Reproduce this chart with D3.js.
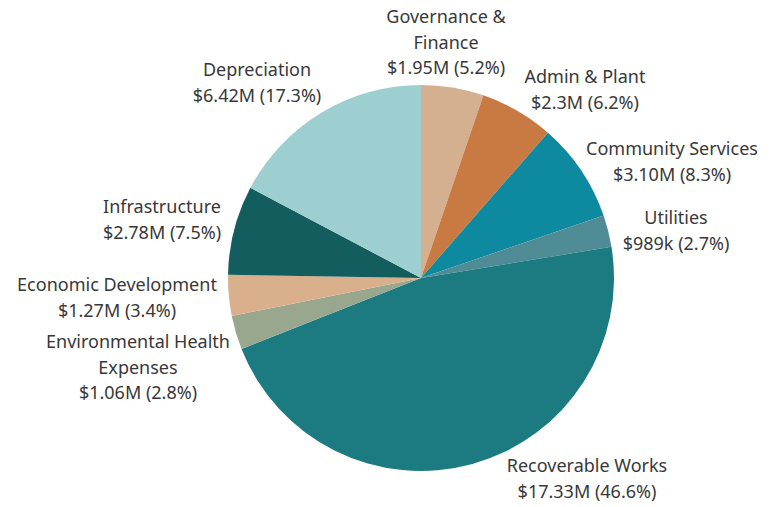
<!DOCTYPE html>
<html>
<head>
<meta charset="utf-8">
<style>
    body { margin: 0; background: #fff; }
    .lbl { font-family: "Noto Sans", sans-serif; font-size: 18px; fill: #383838; }
</style>
</head>
<body>
<div id="containerChart"></div>
<script src="https://cdn.jsdelivr.net/npm/d3@7/dist/d3.min.js"></script>
<script>
    var categories = ["Governance & Finance", "Admin & Plant", "Community Services", "Utilities",
        "Recoverable Works", "Environmental Health Expenses", "Economic Development",
        "Infrastructure", "Depreciation"];
    var values = [1.95, 2.3, 3.10, 0.989, 17.33, 1.06, 1.27, 2.78, 6.42];
    var amounts = ["$1.95M", "$2.3M", "$3.10M", "$989k", "$17.33M", "$1.06M", "$1.27M", "$2.78M", "$6.42M"];
    var percents = ["5.2%", "6.2%", "8.3%", "2.7%", "46.6%", "2.8%", "3.4%", "7.5%", "17.3%"];
    var colors = ["#d5b090", "#c87a42", "#0d8a9f", "#4f8c95", "#1b7b81", "#9aa78f", "#dab08c", "#145d5f", "#9ecfd0"];

    // label lines (name split by hand like in the picture)
    var labelLines = [
        ["Governance &", "Finance"],
        ["Admin & Plant"],
        ["Community Services"],
        ["Utilities"],
        ["Recoverable Works"],
        ["Environmental Health", "Expenses"],
        ["Economic Development"],
        ["Infrastructure"],
        ["Depreciation"]
    ];
    // centre x, first baseline y for each label
    var labelPos = [[446, 23], [585, 83], [672, 155], [676, 224], [587, 472],
        [138, 348], [117, 291], [162, 213], [257, 76]];

    var width = 776, height = 507;
    var cx = 421, cy = 278, radius = 193;
    var lineH = 25.5;

    var svg = d3.select("#containerChart")
        .append("svg")
        .attr("width", width)
        .attr("height", height);

    var pie = d3.pie().sort(null).value(function (d) { return d; });
    var arc = d3.arc().innerRadius(0).outerRadius(radius);

    var g = svg.append("g")
        .attr("transform", "translate(" + cx + "," + cy + ")");

    g.selectAll("path")
        .data(pie(values))
        .enter().append("path")
        .attr("d", arc)
        .attr("fill", function (d, i) { return colors[i]; });

    var labels = svg.selectAll("text.lbl")
        .data(categories)
        .enter().append("text")
        .attr("class", "lbl")
        .attr("text-anchor", "middle");

    labels.each(function (d, i) {
        var t = d3.select(this);
        var lines = labelLines[i].concat([amounts[i] + " (" + percents[i] + ")"]);
        lines.forEach(function (s, k) {
            t.append("tspan")
                .attr("x", labelPos[i][0])
                .attr("y", labelPos[i][1] + k * lineH)
                .text(s);
        });
    });
</script>
</body>
</html>
